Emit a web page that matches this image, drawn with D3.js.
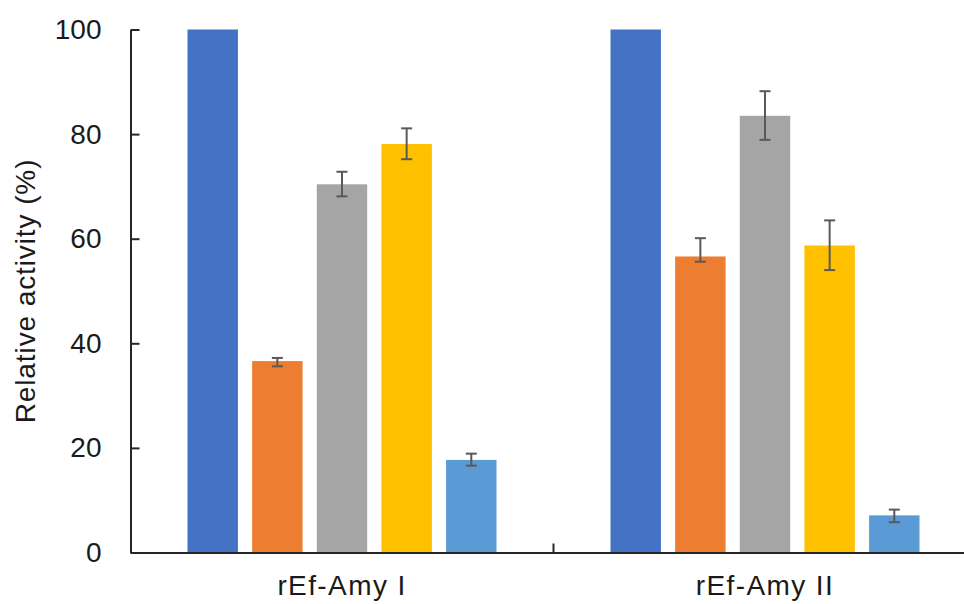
<!DOCTYPE html>
<html>
<head>
<meta charset="utf-8">
<script src="https://d3js.org/d3.v7.min.js"></script>
<style>
  body { margin: 0; background: #fff; }
  text { font-family: "Liberation Sans", Arial, sans-serif; fill: #1a1a1a; }
</style>
</head>
<body>
<div id="chart"></div>
<script>
// Data
const groups = ["rEf-Amy I", "rEf-Amy II"]
const series = ["s1", "s2", "s3", "s4", "s5"]
const seriesColors = ["#4472C4", "#ED7D31", "#A5A5A5", "#FFC000", "#5B9BD5"]
const valuesAmyI = [100, 36.6, 70.4, 78.1, 17.7]
const valuesAmyII = [100, 56.6, 83.5, 58.7, 7.1]
const errLowAmyI = [100, 35.6, 68.1, 75.2, 16.6]
const errHighAmyI = [100, 37.2, 72.8, 81.1, 18.9]
const errLowAmyII = [100, 55.6, 78.9, 54.0, 5.8]
const errHighAmyII = [100, 60.1, 88.2, 63.5, 8.2]
const yTicks = [0, 20, 40, 60, 80, 100]

const w = 964
const h = 604

const rows = [
    { group: groups[0], values: valuesAmyI, low: errLowAmyI, high: errHighAmyI },
    { group: groups[1], values: valuesAmyII, low: errLowAmyII, high: errHighAmyII }
]

const svg = d3.select("#chart")
    .append("svg")
    .attr("width", w)
    .attr("height", h)

// Scales
const yScale = d3.scaleLinear()
    .domain([0, 100])
    .range([552.5, 29.5])

const x0 = d3.scaleBand()
    .domain(groups)
    .range([130.5, 976.5])

const x1 = d3.scaleBand()
    .domain(series)
    .range([57, 366])
    .paddingInner(0.22)
    .paddingOuter(0)

// Bars
const groupG = svg.selectAll("g.group")
    .data(rows)
    .enter()
    .append("g")
    .attr("class", "group")
    .attr("transform", d => `translate(${x0(d.group)},0)`)

groupG.selectAll("rect")
    .data(d => d.values.map((v, i) => ({ key: series[i], value: v, color: seriesColors[i] })))
    .enter()
    .append("rect")
    .attr("x", d => x1(d.key))
    .attr("y", d => yScale(d.value))
    .attr("width", x1.bandwidth())
    .attr("height", d => yScale(0) - yScale(d.value))
    .attr("fill", d => d.color)

// Error bars
const errData = d => d.values.map((v, i) => ({ key: series[i], low: d.low[i], high: d.high[i] }))
    .filter(e => e.high > e.low)

const errG = groupG.selectAll("g.err")
    .data(errData)
    .enter()
    .append("g")
    .attr("class", "err")
    .attr("stroke", "#595959")
    .attr("stroke-width", 2)

errG.append("line")
    .attr("x1", d => x1(d.key) + x1.bandwidth() / 2)
    .attr("x2", d => x1(d.key) + x1.bandwidth() / 2)
    .attr("y1", d => yScale(d.low))
    .attr("y2", d => yScale(d.high))

errG.each(function (d) {
    const cx = x1(d.key) + x1.bandwidth() / 2
    ;[d.low, d.high].forEach(v => {
        d3.select(this).append("line")
            .attr("x1", cx - 5.5)
            .attr("x2", cx + 5.5)
            .attr("y1", yScale(v))
            .attr("y2", yScale(v))
    })
})

// Y axis, ticks pointing inwards
const yAxis = d3.axisLeft(yScale)
    .tickValues(yTicks)
    .tickSizeInner(-9)
    .tickSizeOuter(0)
    .tickPadding(29)

const yAxisG = svg.append("g")
    .attr("transform", "translate(130.5,0)")
    .call(yAxis)
yAxisG.select(".domain").attr("stroke", "#262626").attr("stroke-width", 2)
yAxisG.selectAll(".tick line").attr("stroke", "#262626").attr("stroke-width", 2)
yAxisG.selectAll(".tick text")
    .style("font-size", "28px")
    .attr("fill", "#1a1a1a")

// X axis line, boundary tick between groups
const xAxis = d3.axisBottom(x0)
    .tickSize(0)
    .tickPadding(22.5)

const xAxisG = svg.append("g")
    .attr("transform", "translate(0,552.5)")
    .call(xAxis)
xAxisG.select(".domain").attr("stroke", "#262626").attr("stroke-width", 2)
xAxisG.selectAll(".tick text")
    .style("font-size", "28px")
    .style("letter-spacing", "1.4px")
    .attr("fill", "#1a1a1a")

xAxisG.selectAll("line.bound")
    .data(groups.slice(1))
    .enter()
    .append("line")
    .attr("class", "bound")
    .attr("x1", d => x0(d))
    .attr("x2", d => x0(d))
    .attr("y1", 0)
    .attr("y2", -9)
    .attr("stroke", "#262626")
    .attr("stroke-width", 2)

// Y title
svg.append("text")
    .attr("transform", `translate(35,${(yScale(0) + yScale(100)) / 2}) rotate(-90)`)
    .attr("text-anchor", "middle")
    .style("font-size", "28px")
    .style("letter-spacing", "0.9px")
    .text("Relative activity (%)")
</script>
</body>
</html>
